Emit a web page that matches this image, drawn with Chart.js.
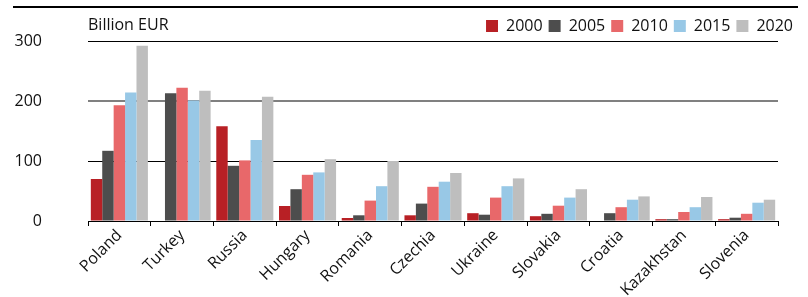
<!DOCTYPE html>
<html>
<head>
<meta charset="utf-8">
<script src="https://cdn.jsdelivr.net/npm/chart.js@4"></script>
<style>
  html, body { margin: 0; padding: 0; background: #fff; }
  #wrap { width: 808px; height: 297px; }
</style>
</head>
<body>
<div id="wrap"><canvas id="myChart"></canvas></div>
<script>
const countries = ['Poland', 'Turkey', 'Russia', 'Hungary', 'Romania', 'Czechia', 'Ukraine', 'Slovakia', 'Croatia', 'Kazakhstan', 'Slovenia'];
const years = ['2000', '2005', '2010', '2015', '2020'];
const v2000 = [70, null, 158, 25, 5, 9.5, 13, 8, null, 3, 3];
const v2005 = [117, 213, 92, 53, 9.5, 29, 10.5, 12, 13, 3, 5.5];
const v2010 = [193, 222, 101, 77, 34, 57, 39, 25.5, 23, 15, 12];
const v2015 = [214, 201, 135, 81, 58, 65.5, 58, 39, 35.5, 23, 30.5];
const v2020 = [292, 217, 207, 103, 100, 80, 71, 53, 41, 40, 35.5];
const yTicks = [0, 100, 200, 300];
const unitLabel = 'Billion EUR';

const colors = ['#b82025', '#4d4d4d', '#e8686a', '#98c8e6', '#bebebe'];
const series = [v2000, v2005, v2010, v2015, v2020];

const fontFamily = '"Open Sans", Lato, sans-serif';

const frame = {
  id: 'frame',
  afterDraw(chart) {
    const c = chart.ctx;
    c.save();
    c.strokeStyle = '#000';
    c.lineWidth = 2;
    c.beginPath();
    c.moveTo(13, 7);
    c.lineTo(798, 7);
    c.stroke();
    c.fillStyle = '#111';
    c.font = '16px ' + fontFamily;
    c.textBaseline = 'middle';
    c.textAlign = 'left';
    c.fillText(unitLabel, chart.chartArea.left, 25);
    c.restore();
  }
};

new Chart(document.getElementById('myChart'), {
  type: 'bar',
  data: {
    labels: countries,
    datasets: years.map((y, i) => ({
      label: y,
      data: series[i],
      backgroundColor: colors[i],
      borderWidth: 0,
      categoryPercentage: 0.91,
      barPercentage: 1.0
    }))
  },
  options: {
    responsive: true,
    maintainAspectRatio: false,
    animation: false,
    layout: { padding: { top: 12, left: 0, right: 9, bottom: 0 } },
    plugins: {
      legend: {
        position: 'top',
        align: 'end',
        maxHeight: 29,
        labels: {
          boxWidth: 12,
          boxHeight: 12,
          padding: 6,
          color: '#111',
          font: { family: fontFamily, size: 16 }
        }
      },
      tooltip: { enabled: false }
    },
    scales: {
      x: {
        grid: { drawOnChartArea: false, drawTicks: true, tickLength: 5, color: '#000', offset: true },
        border: { display: true, color: '#000', width: 1 },
        ticks: {
          minRotation: 45,
          maxRotation: 45,
          color: '#111',
          padding: 0,
          font: { family: fontFamily, size: 16 }
        },
        afterFit(s) { s.height = 76; }
      },
      y: {
        min: 0,
        max: 300,
        afterBuildTicks(s) { s.ticks = yTicks.map(v => ({ value: v })); },
        grid: {
          drawTicks: false,
          color: ctx => ctx.tick && ctx.tick.value === 200 ? '#808080' : '#000',
          lineWidth: ctx => ctx.tick && ctx.tick.value === 200 ? 2 : 1
        },
        border: { display: false },
        ticks: {
          padding: 46,
          color: '#111',
          font: { family: fontFamily, size: 16 }
        },
        afterFit(s) {
          s.width = 88;
          s.paddingTop = 10;
          s.paddingBottom = 10;
        }
      },
      yr: {
        position: 'right',
        display: true,
        grid: { display: false },
        border: { display: false },
        ticks: { display: false },
        afterFit(s) { s.width = 21; }
      }
    }
  },
  plugins: [frame]
});
</script>
</body>
</html>
